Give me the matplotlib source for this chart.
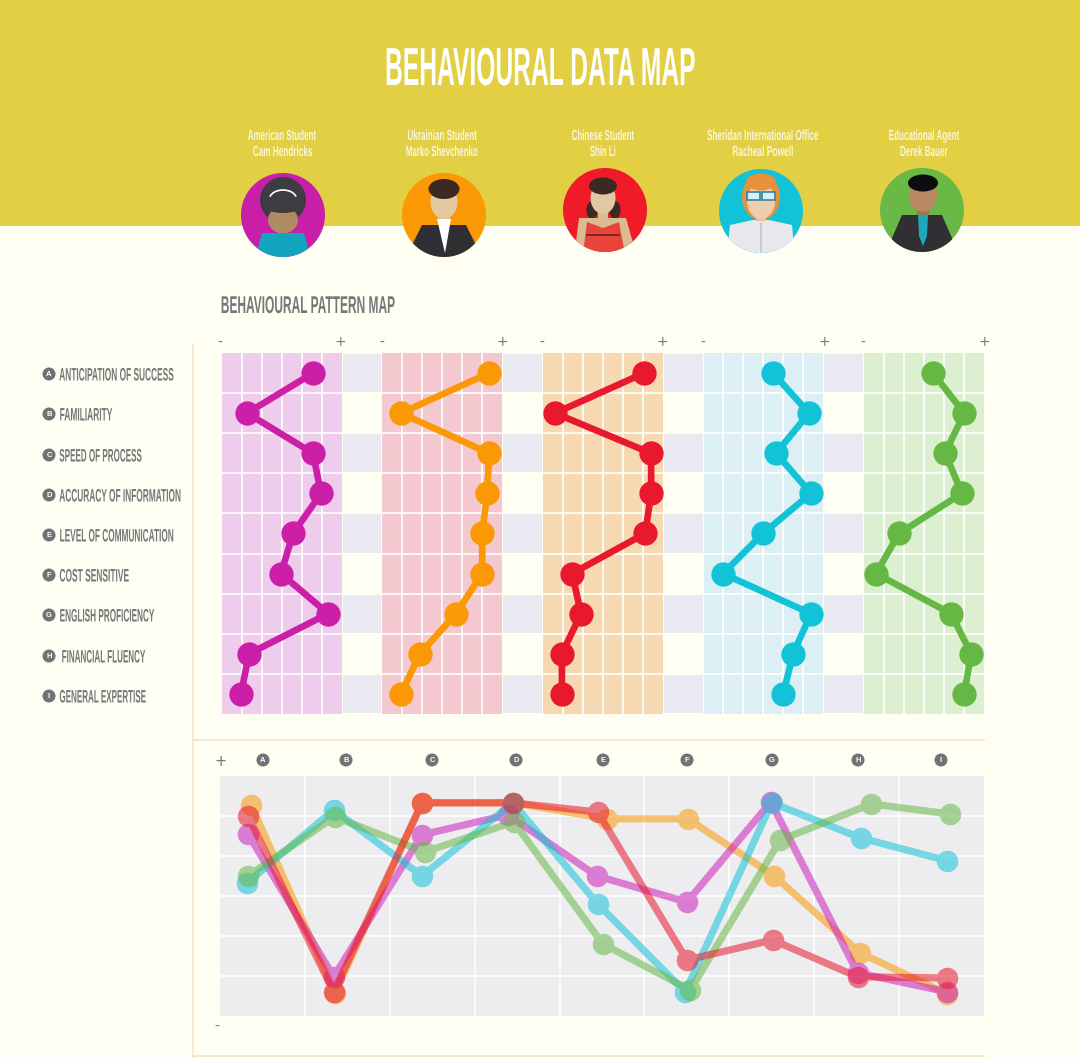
import numpy as np
import matplotlib
matplotlib.use("Agg")
import matplotlib.pyplot as plt
from matplotlib.patches import Circle, Ellipse, Polygon, Rectangle, Arc
from matplotlib.patheffects import AbstractPathEffect
from matplotlib.transforms import Affine2D
from matplotlib import font_manager as fm

W, H = 1080, 1058

# ---------- data ----------
title = "BEHAVIOURAL DATA MAP"
subtitle = "BEHAVIOURAL PATTERN MAP"
letters = ["A", "B", "C", "D", "E", "F", "G", "H", "I"]
behaviours = ["ANTICIPATION OF SUCCESS", "FAMILIARITY", "SPEED OF PROCESS",
              "ACCURACY OF INFORMATION", "LEVEL OF COMMUNICATION", "COST SENSITIVE",
              "ENGLISH PROFICIENCY", "FINANCIAL FLUENCY", "GENERAL EXPERTISE"]
roles = ["American Student", "Ukrainian Student", "Chinese Student",
         "Sheridan International Office", "Educational Agent"]
names = ["Cam Hendricks", "Marko Shevchenko", "Shin Li", "Racheal Powell", "Derek Bauer"]

american = [4.57, 1.26, 4.57, 4.97, 3.57, 2.96, 5.33, 1.36, 0.95]
ukrainian = [5.38, 0.95, 5.38, 5.28, 5.03, 5.03, 3.72, 1.91, 0.95]
chinese = [5.08, 0.60, 5.43, 5.43, 5.13, 1.46, 1.91, 0.95, 0.95]
sheridan = [3.49, 5.30, 3.64, 5.40, 2.99, 0.98, 5.40, 4.50, 4.00]
agent = [3.47, 5.03, 4.07, 4.92, 1.76, 0.60, 4.37, 5.38, 5.03]

orange_x = [0.365, 1.355, 2.38, 3.45, 4.56, 5.51, 6.53, 7.54, 8.57]
orange_y = [5.28, 0.58, 5.33, 5.33, 4.93, 4.93, 3.50, 1.58, 0.55]
magenta_x = [0.33, 1.34, 2.38, 3.39, 4.44, 5.50, 6.49, 7.51, 8.57]
magenta_y = [4.55, 0.98, 4.53, 5.03, 3.50, 2.85, 5.35, 1.08, 0.60]
red_x = [0.33, 1.34, 2.38, 3.45, 4.45, 5.50, 6.51, 7.51, 8.56]
red_y = [5.00, 0.60, 5.33, 5.33, 5.10, 1.40, 1.90, 0.98, 0.95]
cyan_x = [0.32, 1.34, 2.38, 3.45, 4.45, 5.48, 6.50, 7.55, 8.57]
cyan_y = [3.33, 5.15, 3.50, 5.33, 2.80, 0.60, 5.33, 4.45, 3.88]
green_x = [0.33, 1.35, 2.41, 3.46, 4.51, 5.54, 6.60, 7.67, 8.60]
green_y = [3.50, 4.98, 4.10, 4.85, 1.80, 0.65, 4.40, 5.30, 5.05]

# ---------- styles ----------
BG = "#fefef2"
BAND = "#e2cf44"
GREY = "#77777a"
MAG, ORG, RED, CYA, GRN = "#cc1fa8", "#fa9806", "#e8192c", "#12c3d8", "#66b845"
series_cols = [MAG, ORG, RED, CYA, GRN]
panel_cols = ["#eecdec", "#f3c9cf", "#f6d9b2", "#dbeff4", "#dcefd0"]
panel_left = [222, 382, 543, 703.5, 864]
PANEL_W = 119.5
TOP, ROW_H = 353, 40.1

avail = {f.name for f in fm.fontManager.ttflist}
FONT = "Liberation Sans Narrow" if "Liberation Sans Narrow" in avail else "Liberation Sans"


class FitWidth(AbstractPathEffect):
    """Condense the glyph outlines horizontally to a target pixel width."""
    def __init__(self, width, anchor="center"):
        super().__init__()
        self.width, self.anchor = width, anchor

    def draw_path(self, renderer, gc, tpath, affine, rgbFace=None):
        ext = tpath.get_extents(affine)
        sx = self.width / max(ext.width, 1e-6)
        ax_x = ext.x0 if self.anchor == "left" else (ext.x0 + ext.x1) / 2
        aff = affine + Affine2D().translate(-ax_x, 0).scale(sx, 1).translate(ax_x, 0)
        renderer.draw_path(gc, tpath, aff, rgbFace)


def group_alpha(a):
    def f(img, dpi):
        img = img.copy()
        img[..., 3] *= a
        return img, 0, 0
    return f


fig = plt.figure(figsize=(W / 100, H / 100), dpi=100, facecolor=BG)


def ax_px(x0, y0, x1, y1, z=1):
    return fig.add_axes([x0 / W, 1 - y1 / H, (x1 - x0) / W, (y1 - y0) / H], zorder=z)


ov = fig.add_axes([0, 0, 1, 1], zorder=0)
ov.set_xlim(0, W)
ov.set_ylim(H, 0)
ov.axis("off")
fg = fig.add_axes([0, 0, 1, 1], zorder=5)
fg.set_xlim(0, W)
fg.set_ylim(H, 0)
fg.axis("off")
fg.patch.set_alpha(0)


def txt(a, x, y, s, w, size, color, ha="center", weight="bold"):
    return a.text(x, y, s, ha=ha, va="baseline", fontsize=size, color=color, family=FONT,
                  weight=weight, path_effects=[FitWidth(w, "left" if ha == "left" else "center")])


# header band and rules
ov.add_patch(Rectangle((0, 0), W, 226, color=BAND, lw=0))
ov.plot([193, 193], [345, 1058], color="#f6e9cf", lw=1.6)
ov.plot([193, 984], [740, 740], color="#f3e4c4", lw=1.2)
ov.plot([193, 984], [1056, 1056], color="#f3e4c4", lw=1.2)

txt(fg, 540, 85, title, 308, 38.5, "white")
txt(fg, 220, 313, subtitle, 173, 17.5, GREY, ha="left")

# people captions
role_x = [282, 442, 603, 763, 924]
role_w = [68, 69, 62, 111, 70]
name_x = [283, 442, 603, 763, 924]
name_w = [59, 71, 25, 60, 47]
for i in range(5):
    txt(fg, role_x[i], 140, roles[i], role_w[i], 10.5, "#fbf6d8")
    txt(fg, name_x[i], 156, names[i], name_w[i], 10.5, "#fbf6d8")


# portraits
def portrait(cx, cy, r, bg, draw):
    base = Circle((cx, cy), r, color=bg, lw=0, zorder=3)
    fg.add_patch(base)
    def add(p):
        p.set_zorder(4)
        fg.add_patch(p)
        p.set_clip_path(base)
        return p
    draw(add, cx, cy)


SK1, SK2, SK3 = "#b08a62", "#e5c9a0", "#edcfae"
JK = "#303034"


def p_cam(add, cx, cy):
    add(Circle((cx, cy - 15), 23, color="#3c3c42", lw=0))
    add(Rectangle((cx - 5, cy + 10), 10, 10, color="#9a7650", lw=0))
    add(Ellipse((cx, cy + 5), 30, 27, color=SK1, lw=0))
    add(Ellipse((cx, cy - 10), 40, 16, color="#3c3c42", lw=0))
    add(Arc((cx, cy - 16), 27, 18, theta1=190, theta2=350, color="white", lw=1.2))
    add(Polygon([(cx - 21, cy + 18), (cx + 21, cy + 18), (cx + 26, cy + 36), (cx + 26, cy + 44),
                 (cx - 26, cy + 44), (cx - 26, cy + 36)], color="#12a5c0", lw=0))


def p_marko(add, cx, cy):
    add(Rectangle((cx - 6, cy - 5), 12, 14, color="#d8b88c", lw=0))
    add(Polygon([(cx - 22, cy + 10), (cx + 22, cy + 10), (cx + 32, cy + 30), (cx + 32, cy + 45),
                 (cx - 32, cy + 45), (cx - 32, cy + 30)], color=JK, lw=0))
    add(Polygon([(cx - 7, cy + 4), (cx + 7, cy + 4), (cx + 1, cy + 38)], color="white", lw=0))
    add(Ellipse((cx, cy - 13), 27, 34, color=SK2, lw=0))
    add(Ellipse((cx, cy - 26), 31, 20, color="#3b2a22", lw=0))


def p_shin(add, cx, cy):
    add(Ellipse((cx - 13, cy + 0), 11, 18, color="#3b2a22", lw=0))
    add(Ellipse((cx + 10, cy + 0), 11, 18, color="#3b2a22", lw=0))
    add(Polygon([(cx - 26, cy + 8), (cx + 21, cy + 8), (cx + 30, cy + 40), (cx - 30, cy + 40)],
                color="#d9bd92", lw=0))
    add(Rectangle((cx - 7, cy - 5), 10, 14, color="#d9bd92", lw=0))
    add(Ellipse((cx - 2, cy - 12), 25, 32, color="#e2c8a2", lw=0))
    add(Ellipse((cx - 2, cy - 24), 28, 17, color="#3b2a22", lw=0))
    add(Polygon([(cx - 18, cy + 12), (cx - 2, cy + 18), (cx + 14, cy + 12), (cx + 20, cy + 44),
                 (cx - 22, cy + 44)], color="#e8443c", lw=0))
    add(Rectangle((cx - 19, cy + 24), 34, 2, color="#7a2a26", lw=0))


def p_rachael(add, cx, cy):
    add(Ellipse((cx, cy - 14), 38, 46, color="#e8903a", lw=0))
    add(Polygon([(cx - 31, cy + 14), (cx - 8, cy + 9), (cx + 8, cy + 9), (cx + 31, cy + 14),
                 (cx + 34, cy + 46), (cx - 34, cy + 46)], color="#e8e8ec", lw=0))
    add(Rectangle((cx - 1, cy + 12), 2, 32, color="#c9c9cf", lw=0))
    add(Rectangle((cx - 5, cy - 2), 10, 12, color="#e6c3a4", lw=0))
    add(Ellipse((cx, cy - 10), 28, 36, color=SK3, lw=0))
    add(Ellipse((cx, cy - 29), 30, 17, color="#e8903a", lw=0))
    add(Rectangle((cx - 14, cy - 19), 13, 8, fc="#dbeef2", ec="#2d86a8", lw=1.2))
    add(Rectangle((cx + 1, cy - 19), 13, 8, fc="#dbeef2", ec="#2d86a8", lw=1.2))


def p_derek(add, cx, cy):
    add(Polygon([(cx - 20, cy + 5), (cx + 20, cy + 5), (cx + 30, cy + 28), (cx + 30, cy + 44),
                 (cx - 30, cy + 44), (cx - 30, cy + 28)], color=JK, lw=0))
    add(Polygon([(cx - 4, cy + 5), (cx + 6, cy + 5), (cx + 5, cy + 26), (cx + 1, cy + 36),
                 (cx - 3, cy + 26)], color="#1ea8b8", lw=0))
    add(Rectangle((cx - 5, cy - 4), 12, 9, color="#9e7650", lw=0))
    add(Ellipse((cx + 1, cy - 15), 28, 34, color="#b98a62", lw=0))
    add(Ellipse((cx + 1, cy - 27), 30, 17, color="#0d0d10", lw=0))


circ_x = [283, 444, 605, 761, 922]
circ_y = [215, 215, 210, 211, 210]
circ_fill = ["#c81ea8", "#fa9806", "#f01a28", "#12c3d8", "#6ab845"]
draws = [p_cam, p_marko, p_shin, p_rachael, p_derek]
for i in range(5):
    portrait(circ_x[i], circ_y[i], 42, circ_fill[i], draws[i])


def badge(x, y, s):
    fg.add_patch(Circle((x, y), 6.5, color="#727274", lw=0, zorder=3))
    fg.text(x, y + 0.3, s, ha="center", va="center", fontsize=5.5, color="white",
            family=FONT, weight="bold", zorder=4)


# row labels
label_x = [59, 59, 59, 59, 59, 59, 59, 61, 59]
label_w = [114, 52, 82, 121, 113, 69, 94, 83, 86]
label_y = [374, 414, 455, 495, 535, 575, 615, 656, 696]
for i, b in enumerate(behaviours):
    badge(49, label_y[i], letters[i])
    txt(fg, label_x[i], label_y[i] + 6.5, b, label_w[i], 13, GREY, ha="left")

# gap checker between panels
for i in range(4):
    gx0 = panel_left[i] + PANEL_W
    gx1 = panel_left[i + 1]
    for r in range(0, 9, 2):
        ov.add_patch(Rectangle((gx0 + 1, TOP + r * ROW_H + 1), gx1 - gx0 - 2, ROW_H - 2,
                               color="#e9e9f1", lw=0))

# top panels
rows = np.arange(9) + 0.5
top_values = [american, ukrainian, chinese, sheridan, agent]
for i, vals in enumerate(top_values):
    a = ax_px(panel_left[i], TOP, panel_left[i] + PANEL_W, TOP + 9 * ROW_H, z=2)
    a.set_facecolor(panel_cols[i])
    a.set_xlim(0, 6)
    a.set_ylim(9, 0)
    a.set_xticks(range(1, 6))
    a.set_yticks(range(1, 9))
    a.grid(True, color="white", lw=1.2)
    a.set_axisbelow(True)
    a.tick_params(length=0, labelbottom=False, labelleft=False)
    for s in a.spines.values():
        s.set_visible(False)
    a.plot(vals, rows, color=series_cols[i], lw=4.8, marker="o", ms=17.5, mew=0,
           clip_on=False, solid_joinstyle="round", zorder=5)

# + / - marks
minus_x = [220, 382, 542, 703, 863]
plus_x = [340, 502, 662, 824, 984]
for x in minus_x:
    fg.text(x, 342.5, "-", ha="center", va="center", fontsize=10, color=GREY, family="DejaVu Sans")
for x in plus_x:
    fg.text(x, 342, "+", ha="center", va="center", fontsize=10, color=GREY, family="DejaVu Sans")
fg.text(221, 761, "+", ha="center", va="center", fontsize=10.5, color=GREY, family="DejaVu Sans")
fg.text(217, 1027, "-", ha="center", va="center", fontsize=10, color=GREY, family="DejaVu Sans")

# bottom comparison chart
badge_x = [263, 346, 432, 516, 603, 687, 772, 858, 941]
for x, l in zip(badge_x, letters):
    badge(x, 760, l)

b = ax_px(220, 776, 984, 1016, z=2)
b.set_facecolor("#ededf0")
b.set_xlim(0, 9)
b.set_ylim(0, 6)
b.set_xticks(range(1, 9))
b.set_yticks(range(1, 6))
b.grid(True, color="white", lw=1.2)
b.set_axisbelow(True)
b.tick_params(length=0, labelbottom=False, labelleft=False)
for s in b.spines.values():
    s.set_visible(False)
bottom = [(orange_x, orange_y, "#fa9806", 0.55), (magenta_x, magenta_y, "#cc1fb8", 0.55),
          (cyan_x, cyan_y, "#12c3d8", 0.55), (green_x, green_y, "#66b845", 0.55),
          (red_x, red_y, "#e8192c", 0.55)]
for bx, by, c, al in bottom:
    ln, = b.plot(bx, by, color=c, lw=5.2, marker="o", ms=15.5, mew=0, clip_on=False,
                 solid_joinstyle="round", zorder=4)
    ln.set_agg_filter(group_alpha(al))

fig.savefig("out.png", dpi=100, facecolor=BG)
